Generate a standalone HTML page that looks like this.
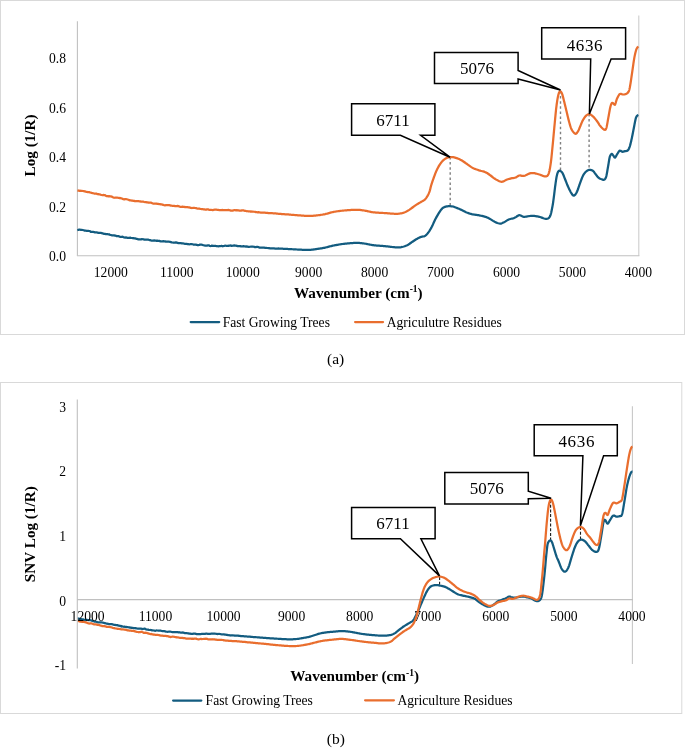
<!DOCTYPE html>
<html><head><meta charset="utf-8"><style>
html,body{margin:0;padding:0;background:#fff;}
svg{display:block;font-family:'Liberation Serif', serif;will-change:transform;}
</style></head><body>
<svg width="685" height="749" viewBox="0 0 685 749">
<rect x="0.5" y="0.5" width="684" height="334" fill="#fff" stroke="#d9d9d9" stroke-width="1"/>
<line x1="77.4" y1="21.2" x2="77.4" y2="255.7" stroke="#c0c0c0" stroke-width="1.1"/>
<line x1="638.8" y1="15.5" x2="638.8" y2="255.7" stroke="#cdcdcd" stroke-width="1.1"/>
<line x1="76.9" y1="255.7" x2="639.4" y2="255.7" stroke="#c0c0c0" stroke-width="1.1"/>
<text x="66" y="261.3" font-size="13.6" text-anchor="end" font-weight="normal" >0.0</text>
<text x="66" y="211.8" font-size="13.6" text-anchor="end" font-weight="normal" >0.2</text>
<text x="66" y="162.3" font-size="13.6" text-anchor="end" font-weight="normal" >0.4</text>
<text x="66" y="112.80000000000001" font-size="13.6" text-anchor="end" font-weight="normal" >0.6</text>
<text x="66" y="63.30000000000001" font-size="13.6" text-anchor="end" font-weight="normal" >0.8</text>
<text x="110.8" y="276.6" font-size="13.6" text-anchor="middle" font-weight="normal" >12000</text>
<text x="176.75" y="276.6" font-size="13.6" text-anchor="middle" font-weight="normal" >11000</text>
<text x="242.7" y="276.6" font-size="13.6" text-anchor="middle" font-weight="normal" >10000</text>
<text x="308.65000000000003" y="276.6" font-size="13.6" text-anchor="middle" font-weight="normal" >9000</text>
<text x="374.6" y="276.6" font-size="13.6" text-anchor="middle" font-weight="normal" >8000</text>
<text x="440.55" y="276.6" font-size="13.6" text-anchor="middle" font-weight="normal" >7000</text>
<text x="506.50000000000006" y="276.6" font-size="13.6" text-anchor="middle" font-weight="normal" >6000</text>
<text x="572.45" y="276.6" font-size="13.6" text-anchor="middle" font-weight="normal" >5000</text>
<text x="638.4" y="276.6" font-size="13.6" text-anchor="middle" font-weight="normal" >4000</text>
<text x="35.5" y="145.4" font-size="15.2" text-anchor="middle" font-weight="bold" transform="rotate(-90 35.5 145.4)">Log (1/R)</text>
<text x="358.3" y="297.5" font-size="15.2" font-weight="bold" text-anchor="middle">Wavenumber (cm<tspan font-size="9.5" dy="-5.5">-1</tspan><tspan dy="5.5">)</tspan></text>
<line x1="450.2" y1="157" x2="450.2" y2="206" stroke="#808080" stroke-width="1.4" stroke-dasharray="2.5,2.6"/>
<line x1="560.5" y1="91" x2="560.5" y2="170" stroke="#808080" stroke-width="1.4" stroke-dasharray="2.5,2.6"/>
<line x1="589.1" y1="114" x2="589.1" y2="169" stroke="#808080" stroke-width="1.4" stroke-dasharray="2.5,2.6"/>
<path d="M77.30,230.08 L77.79,229.99 L78.41,229.82 L79.12,229.62 L79.93,229.71 L80.81,229.79 L81.74,229.86 L82.72,230.01 L83.72,230.27 L84.72,230.63 L85.72,230.64 L86.70,230.76 L87.47,230.80 L88.25,230.84 L89.06,231.02 L89.88,231.19 L90.71,231.77 L91.56,231.85 L92.41,231.93 L93.27,231.93 L94.13,232.06 L95.00,232.32 L95.86,232.27 L96.71,232.41 L97.56,232.56 L98.40,232.83 L99.23,232.96 L100.06,232.85 L100.89,232.97 L101.72,233.11 L102.55,233.47 L103.37,233.59 L104.20,233.86 L105.03,233.92 L105.85,234.07 L106.68,234.18 L107.51,234.21 L108.34,234.30 L109.17,234.31 L110.00,234.83 L110.83,235.02 L111.67,235.31 L112.50,235.31 L113.34,235.46 L114.17,235.37 L115.01,235.57 L115.84,235.72 L116.68,236.15 L117.52,236.05 L118.35,236.20 L119.19,236.42 L120.03,236.88 L120.86,236.93 L121.70,236.76 L122.54,236.72 L123.37,237.08 L124.21,237.37 L125.04,237.52 L125.88,237.43 L126.71,237.59 L127.55,237.78 L128.39,237.95 L129.22,237.81 L130.06,237.69 L130.89,237.93 L131.73,238.00 L132.56,238.17 L133.40,238.07 L134.24,238.36 L135.09,238.45 L135.94,238.67 L136.80,238.97 L137.65,239.15 L138.51,239.41 L139.36,239.33 L140.21,239.32 L141.05,239.31 L141.89,239.10 L142.71,239.24 L143.52,239.31 L144.32,239.59 L145.10,239.73 L145.98,239.74 L146.83,239.68 L147.66,239.68 L148.47,239.71 L149.26,240.01 L150.05,240.08 L150.84,240.41 L151.63,240.55 L152.44,240.63 L153.27,240.60 L154.12,240.45 L155.00,240.68 L155.78,240.58 L156.58,240.91 L157.39,240.70 L158.21,240.78 L159.05,240.75 L159.89,241.17 L160.74,241.44 L161.59,241.48 L162.45,241.30 L163.30,241.16 L164.16,241.30 L165.01,241.34 L165.86,241.64 L166.70,241.56 L167.54,241.67 L168.37,241.57 L169.21,241.72 L170.05,241.93 L170.88,242.13 L171.72,242.37 L172.56,242.51 L173.39,242.72 L174.23,242.58 L175.06,242.59 L175.90,242.34 L176.73,242.58 L177.57,242.82 L178.40,243.09 L179.23,243.14 L180.06,243.03 L180.89,243.14 L181.72,243.28 L182.55,243.26 L183.37,243.47 L184.20,243.66 L185.03,243.81 L185.85,243.81 L186.68,243.87 L187.51,244.10 L188.34,244.19 L189.17,244.27 L190.00,244.20 L190.83,244.10 L191.67,244.03 L192.50,244.25 L193.34,244.56 L194.17,244.70 L195.01,244.58 L195.84,244.56 L196.68,244.80 L197.52,245.09 L198.35,245.03 L199.19,244.89 L200.03,244.63 L200.86,244.63 L201.70,244.72 L202.55,244.95 L203.41,245.26 L204.29,245.45 L205.18,245.61 L206.07,245.72 L206.96,245.57 L207.84,245.41 L208.71,245.37 L209.57,245.81 L210.40,246.04 L211.20,245.90 L211.98,245.66 L212.71,245.82 L213.40,245.87 L214.45,245.99 L215.30,245.78 L216.04,246.07 L216.72,246.08 L217.42,246.18 L218.23,246.27 L219.19,246.12 L220.40,246.01 L221.03,245.99 L221.70,245.93 L222.43,246.26 L223.19,246.03 L223.99,246.00 L224.81,245.73 L225.66,245.74 L226.53,245.87 L227.41,245.84 L228.29,245.93 L229.18,245.63 L230.07,245.58 L230.94,245.42 L231.80,245.90 L232.65,245.73 L233.46,245.72 L234.25,245.38 L235.00,245.55 L235.93,245.68 L236.82,245.89 L237.70,246.17 L238.55,246.06 L239.39,246.08 L240.22,246.09 L241.03,246.31 L241.84,246.28 L242.64,246.32 L243.44,246.17 L244.25,246.46 L245.05,246.40 L245.87,246.54 L246.70,246.43 L247.54,246.56 L248.37,246.80 L249.21,246.81 L250.05,246.75 L250.88,246.71 L251.72,246.70 L252.56,246.65 L253.39,246.74 L254.23,246.86 L255.06,247.17 L255.90,247.08 L256.73,246.93 L257.57,246.93 L258.40,247.10 L259.23,247.53 L260.06,247.61 L260.89,247.69 L261.72,247.67 L262.55,247.68 L263.37,247.73 L264.20,247.66 L265.03,247.79 L265.85,247.80 L266.68,247.92 L267.51,248.00 L268.34,248.16 L269.17,248.18 L270.00,248.31 L270.83,248.27 L271.67,248.42 L272.50,248.40 L273.34,248.47 L274.17,248.47 L275.01,248.54 L275.84,248.60 L276.68,248.64 L277.52,248.51 L278.35,248.47 L279.19,248.54 L280.03,248.65 L280.86,248.68 L281.70,248.65 L282.54,248.68 L283.37,248.77 L284.21,248.85 L285.04,248.92 L285.88,248.92 L286.71,248.98 L287.55,248.99 L288.39,249.04 L289.22,249.10 L290.06,249.15 L290.89,249.20 L291.73,249.21 L292.56,249.25 L293.40,249.31 L294.25,249.37 L295.12,249.43 L296.01,249.46 L296.91,249.50 L297.82,249.55 L298.72,249.60 L299.62,249.64 L300.50,249.69 L301.36,249.74 L302.19,249.78 L302.98,249.82 L303.74,249.85 L304.45,249.88 L305.10,249.90 L306.25,249.93 L307.24,249.93 L308.09,249.93 L308.84,249.91 L309.54,249.88 L310.21,249.84 L310.90,249.80 L311.75,249.74 L312.41,249.68 L313.07,249.59 L313.87,249.47 L315.00,249.30 L315.65,249.20 L316.37,249.10 L317.16,248.98 L317.99,248.86 L318.87,248.73 L319.77,248.59 L320.69,248.45 L321.62,248.29 L322.53,248.13 L323.43,247.97 L324.30,247.80 L325.08,247.63 L325.85,247.46 L326.62,247.27 L327.39,247.07 L328.15,246.87 L328.92,246.66 L329.70,246.46 L330.48,246.25 L331.27,246.05 L332.07,245.86 L332.88,245.67 L333.70,245.50 L334.47,245.35 L335.24,245.20 L336.02,245.05 L336.81,244.91 L337.60,244.77 L338.40,244.63 L339.21,244.50 L340.02,244.37 L340.84,244.24 L341.67,244.13 L342.51,244.01 L343.35,243.90 L344.20,243.80 L345.01,243.71 L345.84,243.62 L346.69,243.53 L347.56,243.44 L348.43,243.36 L349.31,243.28 L350.19,243.21 L351.07,243.14 L351.93,243.08 L352.78,243.02 L353.60,242.98 L354.40,242.94 L355.17,242.92 L355.90,242.90 L356.86,242.89 L357.75,242.91 L358.58,242.94 L359.38,242.98 L360.15,243.04 L360.91,243.11 L361.67,243.19 L362.45,243.29 L363.25,243.39 L364.10,243.50 L364.90,243.62 L365.69,243.75 L366.49,243.90 L367.30,244.07 L368.12,244.24 L368.95,244.41 L369.80,244.59 L370.66,244.76 L371.55,244.92 L372.46,245.07 L373.40,245.20 L374.17,245.29 L374.96,245.38 L375.78,245.46 L376.62,245.53 L377.48,245.60 L378.34,245.67 L379.21,245.74 L380.09,245.80 L380.96,245.86 L381.82,245.93 L382.67,245.99 L383.50,246.06 L384.31,246.13 L385.10,246.20 L386.01,246.29 L386.92,246.39 L387.83,246.49 L388.74,246.60 L389.63,246.70 L390.51,246.81 L391.36,246.91 L392.17,247.00 L392.95,247.09 L393.69,247.17 L394.37,247.24 L395.00,247.30 L396.23,247.40 L397.16,247.46 L397.90,247.48 L398.61,247.46 L399.40,247.40 L400.28,247.30 L401.16,247.16 L402.05,246.97 L402.93,246.75 L403.80,246.50 L404.66,246.22 L405.52,245.90 L406.38,245.55 L407.24,245.15 L408.10,244.70 L408.83,244.27 L409.56,243.78 L410.29,243.26 L411.03,242.73 L411.77,242.20 L412.50,241.70 L413.23,241.21 L413.97,240.73 L414.70,240.24 L415.43,239.77 L416.17,239.32 L416.90,238.90 L417.64,238.49 L418.40,238.10 L419.16,237.72 L419.90,237.38 L420.62,237.07 L421.30,236.80 L422.24,236.57 L423.11,236.49 L423.95,236.36 L424.80,236.00 L425.38,235.60 L425.97,235.11 L426.55,234.56 L427.13,233.93 L427.72,233.24 L428.30,232.50 L428.74,231.91 L429.18,231.27 L429.61,230.60 L430.05,229.90 L430.49,229.17 L430.93,228.40 L431.36,227.61 L431.80,226.80 L432.15,226.12 L432.50,225.39 L432.85,224.64 L433.20,223.86 L433.55,223.08 L433.90,222.29 L434.25,221.50 L434.60,220.74 L434.95,220.00 L435.30,219.30 L435.74,218.46 L436.18,217.65 L436.61,216.85 L437.05,216.08 L437.49,215.33 L437.93,214.60 L438.36,213.89 L438.80,213.20 L439.30,212.42 L439.80,211.65 L440.30,210.89 L440.80,210.18 L441.30,209.51 L441.80,208.92 L442.30,208.40 L443.18,207.71 L444.05,207.22 L444.92,206.88 L445.80,206.60 L446.68,206.39 L447.55,206.27 L448.42,206.22 L449.30,206.20 L450.21,206.22 L451.13,206.28 L452.02,206.38 L452.80,206.50 L453.76,206.72 L455.00,207.20 L455.64,207.45 L456.39,207.75 L457.23,208.08 L458.12,208.45 L459.03,208.83 L459.93,209.22 L460.80,209.60 L461.53,209.95 L462.27,210.32 L463.01,210.70 L463.75,211.09 L464.49,211.47 L465.23,211.84 L465.97,212.19 L466.70,212.50 L467.53,212.82 L468.36,213.12 L469.19,213.40 L470.01,213.65 L470.84,213.88 L471.67,214.10 L472.50,214.30 L473.33,214.47 L474.15,214.60 L474.96,214.71 L475.79,214.81 L476.63,214.92 L477.50,215.04 L478.40,215.20 L479.24,215.36 L480.13,215.54 L481.05,215.73 L481.98,215.92 L482.90,216.13 L483.79,216.35 L484.63,216.57 L485.40,216.80 L486.30,217.11 L487.11,217.43 L487.84,217.77 L488.55,218.12 L489.26,218.50 L490.00,218.90 L490.77,219.35 L491.54,219.85 L492.31,220.37 L493.09,220.89 L493.88,221.37 L494.70,221.80 L495.56,222.20 L496.47,222.60 L497.39,222.97 L498.30,223.28 L499.18,223.50 L500.00,223.60 L500.89,223.55 L501.70,223.33 L502.48,223.01 L503.27,222.61 L504.10,222.20 L504.82,221.81 L505.55,221.36 L506.29,220.87 L507.05,220.37 L507.85,219.91 L508.70,219.50 L509.49,219.21 L510.33,218.97 L511.20,218.75 L512.09,218.54 L512.96,218.32 L513.81,218.08 L514.60,217.80 L515.45,217.37 L516.26,216.84 L517.03,216.29 L517.79,215.79 L518.54,215.40 L519.30,215.20 L520.06,215.25 L520.79,215.51 L521.52,215.89 L522.27,216.29 L523.06,216.62 L523.90,216.80 L524.69,216.81 L525.55,216.73 L526.44,216.59 L527.34,216.42 L528.22,216.25 L529.05,216.10 L529.80,216.00 L530.88,215.90 L531.77,215.84 L532.65,215.84 L533.70,215.90 L534.40,215.97 L535.13,216.05 L535.90,216.15 L536.71,216.28 L537.54,216.43 L538.41,216.60 L539.30,216.80 L540.04,217.01 L540.84,217.28 L541.68,217.59 L542.54,217.92 L543.40,218.24 L544.23,218.52 L545.02,218.74 L545.75,218.88 L546.40,218.90 L547.38,218.76 L548.19,218.45 L548.88,217.93 L549.50,217.16 L550.10,216.10 L550.34,215.55 L550.57,214.91 L550.79,214.21 L551.00,213.45 L551.20,212.65 L551.39,211.81 L551.58,210.94 L551.75,210.07 L551.92,209.20 L552.08,208.34 L552.24,207.50 L552.40,206.70 L552.56,205.86 L552.71,205.03 L552.85,204.21 L552.98,203.39 L553.10,202.57 L553.21,201.75 L553.33,200.92 L553.44,200.07 L553.56,199.21 L553.68,198.32 L553.80,197.40 L553.90,196.65 L554.00,195.88 L554.10,195.09 L554.20,194.29 L554.30,193.47 L554.40,192.64 L554.50,191.81 L554.60,190.97 L554.70,190.15 L554.80,189.32 L554.90,188.52 L555.00,187.72 L555.10,186.95 L555.20,186.20 L555.33,185.26 L555.45,184.32 L555.58,183.38 L555.71,182.46 L555.84,181.55 L555.96,180.66 L556.09,179.80 L556.22,178.98 L556.35,178.20 L556.47,177.47 L556.60,176.80 L556.83,175.69 L557.06,174.73 L557.28,173.89 L557.51,173.17 L557.75,172.54 L558.00,172.00 L558.77,170.91 L559.70,170.70 L560.31,170.92 L561.01,171.37 L561.72,172.03 L562.40,172.90 L562.75,173.50 L563.08,174.18 L563.41,174.94 L563.73,175.75 L564.06,176.63 L564.42,177.54 L564.80,178.50 L565.09,179.21 L565.39,179.97 L565.70,180.77 L566.02,181.60 L566.35,182.45 L566.68,183.30 L567.01,184.14 L567.35,184.96 L567.68,185.75 L568.00,186.50 L568.40,187.40 L568.81,188.30 L569.23,189.18 L569.64,190.03 L570.04,190.83 L570.44,191.59 L570.83,192.28 L571.20,192.90 L571.88,194.00 L572.51,194.92 L573.14,195.53 L573.80,195.70 L574.37,195.47 L574.96,194.97 L575.57,194.22 L576.18,193.26 L576.80,192.10 L577.08,191.49 L577.37,190.81 L577.66,190.05 L577.95,189.25 L578.24,188.41 L578.53,187.54 L578.83,186.66 L579.12,185.78 L579.42,184.92 L579.71,184.09 L580.00,183.30 L580.32,182.45 L580.64,181.58 L580.96,180.72 L581.28,179.85 L581.60,179.00 L581.92,178.17 L582.24,177.38 L582.56,176.63 L582.88,175.93 L583.20,175.30 L583.73,174.37 L584.27,173.58 L584.80,172.89 L585.33,172.30 L585.87,171.78 L586.40,171.30 L587.20,170.69 L587.99,170.24 L588.79,169.94 L589.60,169.80 L590.44,169.83 L591.30,170.03 L592.14,170.36 L592.90,170.80 L593.54,171.37 L594.11,172.06 L594.66,172.85 L595.30,173.70 L595.79,174.33 L596.31,175.04 L596.85,175.78 L597.40,176.50 L597.96,177.16 L598.50,177.70 L599.32,178.30 L600.15,178.72 L600.96,179.04 L601.70,179.30 L602.57,179.64 L603.36,179.85 L604.10,179.70 L604.63,179.41 L605.12,178.98 L605.61,178.22 L606.10,176.90 L606.25,176.34 L606.41,175.70 L606.57,174.98 L606.73,174.19 L606.89,173.36 L607.05,172.49 L607.20,171.60 L607.36,170.69 L607.51,169.79 L607.67,168.89 L607.81,168.02 L607.96,167.19 L608.10,166.40 L608.26,165.49 L608.42,164.56 L608.57,163.63 L608.72,162.69 L608.86,161.78 L609.00,160.88 L609.14,160.03 L609.28,159.22 L609.42,158.47 L609.56,157.79 L609.70,157.20 L610.10,155.97 L610.49,155.19 L610.87,154.69 L611.20,154.30 L611.64,153.89 L612.10,154.10 L612.59,154.62 L613.16,155.38 L613.70,156.10 L614.33,157.22 L615.00,157.70 L615.43,157.25 L615.91,156.44 L616.43,155.45 L617.00,154.50 L617.50,153.70 L618.03,152.79 L618.59,151.90 L619.15,151.16 L619.70,150.70 L620.60,150.77 L621.51,151.39 L622.40,151.80 L623.27,151.70 L624.13,151.39 L625.00,151.10 L625.92,151.01 L626.85,150.93 L627.70,150.50 L628.14,150.01 L628.55,149.41 L628.93,148.68 L629.31,147.78 L629.70,146.70 L629.90,146.08 L630.10,145.40 L630.30,144.67 L630.50,143.90 L630.70,143.09 L630.90,142.25 L631.10,141.38 L631.30,140.50 L631.50,139.60 L631.70,138.70 L631.87,137.94 L632.03,137.15 L632.20,136.34 L632.37,135.51 L632.53,134.68 L632.70,133.82 L632.87,132.97 L633.03,132.11 L633.20,131.25 L633.37,130.39 L633.53,129.54 L633.70,128.70 L633.87,127.84 L634.04,126.95 L634.21,126.03 L634.39,125.10 L634.56,124.17 L634.74,123.26 L634.91,122.36 L635.08,121.51 L635.24,120.70 L635.40,119.96 L635.55,119.28 L635.70,118.70 L636.09,117.43 L636.44,116.67 L636.77,116.21 L637.10,115.80 L637.84,115.22 L638.40,115.00" fill="none" stroke="#135c80" stroke-width="2.25" stroke-linejoin="round"/>
<path d="M77.40,190.59 L77.89,190.63 L78.49,190.48 L79.20,190.79 L80.00,190.72 L80.86,190.81 L81.79,190.79 L82.75,191.00 L83.74,191.14 L84.74,191.35 L85.73,191.62 L86.70,191.80 L87.46,192.06 L88.25,192.18 L89.05,192.06 L89.87,192.31 L90.71,192.49 L91.55,192.94 L92.41,193.01 L93.27,193.25 L94.13,193.51 L94.99,193.55 L95.86,193.72 L96.71,193.70 L97.56,194.14 L98.40,194.14 L99.23,194.47 L100.06,194.47 L100.89,194.82 L101.72,194.99 L102.55,195.22 L103.37,194.95 L104.20,195.12 L105.03,195.21 L105.85,195.74 L106.68,196.10 L107.51,196.18 L108.34,196.39 L109.17,196.13 L110.00,196.44 L110.83,196.41 L111.67,196.62 L112.50,197.01 L113.34,197.43 L114.17,197.75 L115.01,197.64 L115.84,197.52 L116.68,197.54 L117.52,197.71 L118.35,197.76 L119.19,198.06 L120.03,197.94 L120.86,198.35 L121.70,198.33 L122.54,198.89 L123.37,199.15 L124.21,199.38 L125.04,199.10 L125.88,199.05 L126.71,199.26 L127.55,199.52 L128.39,199.81 L129.22,200.08 L130.06,200.35 L130.89,200.41 L131.73,200.52 L132.56,200.63 L133.40,200.91 L134.24,200.90 L135.09,201.25 L135.94,201.22 L136.80,201.24 L137.65,201.17 L138.51,201.22 L139.36,201.34 L140.21,201.40 L141.05,201.66 L141.89,201.61 L142.71,201.71 L143.52,201.69 L144.32,202.02 L145.10,202.22 L145.98,202.18 L146.83,202.38 L147.66,202.36 L148.47,202.62 L149.26,202.62 L150.05,202.70 L150.84,202.72 L151.63,202.89 L152.44,203.28 L153.27,203.57 L154.12,203.72 L155.00,203.65 L155.78,203.57 L156.58,203.64 L157.39,203.93 L158.21,203.94 L159.05,204.07 L159.89,204.06 L160.74,204.35 L161.59,204.46 L162.45,204.62 L163.30,204.96 L164.16,205.13 L165.01,205.27 L165.86,205.16 L166.70,205.21 L167.54,205.13 L168.37,205.23 L169.21,205.18 L170.05,205.35 L170.88,205.58 L171.72,205.72 L172.56,205.77 L173.39,205.78 L174.23,205.90 L175.06,206.08 L175.90,206.13 L176.73,206.09 L177.57,205.96 L178.40,206.11 L179.23,206.42 L180.06,206.76 L180.89,206.80 L181.72,206.84 L182.55,206.62 L183.37,206.85 L184.20,206.81 L185.03,207.21 L185.85,207.00 L186.68,207.12 L187.51,207.11 L188.34,207.29 L189.17,207.38 L190.00,207.56 L190.84,207.79 L191.69,208.02 L192.54,207.98 L193.40,207.91 L194.27,207.91 L195.13,208.00 L195.99,208.20 L196.84,208.45 L197.69,208.60 L198.52,208.61 L199.34,208.54 L200.15,208.81 L200.93,209.01 L201.70,209.19 L202.65,209.17 L203.57,209.31 L204.46,209.39 L205.34,209.58 L206.20,209.68 L207.04,209.41 L207.87,209.32 L208.69,209.63 L209.50,209.88 L210.30,209.96 L211.10,209.79 L211.93,209.98 L212.70,210.16 L213.41,209.91 L214.11,209.78 L214.81,209.61 L215.54,209.68 L216.33,209.72 L217.20,209.82 L218.18,209.95 L219.30,210.10 L219.95,210.00 L220.66,210.01 L221.40,210.01 L222.18,209.98 L223.00,210.02 L223.84,210.09 L224.70,210.20 L225.59,210.23 L226.48,210.07 L227.38,210.06 L228.29,209.93 L229.19,210.23 L230.08,210.33 L230.96,210.65 L231.83,210.70 L232.67,210.62 L233.48,210.26 L234.26,210.16 L235.00,210.20 L235.96,210.34 L236.88,210.20 L237.77,210.34 L238.63,210.42 L239.47,210.64 L240.29,210.65 L241.10,210.57 L241.90,210.32 L242.69,210.32 L243.47,210.41 L244.27,210.65 L245.06,210.85 L245.87,210.97 L246.70,211.25 L247.54,211.23 L248.37,211.39 L249.21,211.37 L250.05,211.51 L250.88,211.41 L251.72,211.55 L252.56,211.58 L253.39,211.70 L254.23,211.75 L255.06,211.86 L255.90,212.15 L256.73,212.24 L257.57,212.32 L258.40,212.16 L259.23,212.31 L260.06,212.46 L260.89,212.71 L261.72,212.68 L262.55,212.72 L263.37,212.66 L264.20,212.74 L265.03,212.72 L265.85,212.77 L266.68,212.81 L267.51,212.89 L268.34,213.12 L269.17,213.22 L270.00,213.16 L270.83,213.02 L271.67,213.03 L272.50,213.17 L273.34,213.29 L274.17,213.29 L275.01,213.36 L275.84,213.42 L276.68,213.52 L277.52,213.64 L278.35,213.76 L279.19,213.82 L280.03,213.81 L280.86,213.86 L281.70,214.02 L282.54,214.10 L283.37,214.22 L284.21,214.21 L285.04,214.28 L285.88,214.31 L286.71,214.38 L287.55,214.45 L288.39,214.47 L289.22,214.57 L290.06,214.65 L290.89,214.73 L291.73,214.78 L292.56,214.82 L293.40,214.87 L294.25,214.97 L295.13,215.05 L296.03,215.14 L296.95,215.19 L297.87,215.26 L298.78,215.33 L299.69,215.40 L300.58,215.47 L301.44,215.54 L302.27,215.60 L303.06,215.66 L303.80,215.71 L304.48,215.76 L305.10,215.80 L306.48,215.88 L307.46,215.92 L308.22,215.93 L308.94,215.92 L309.80,215.90 L310.59,215.88 L311.34,215.87 L312.11,215.84 L312.94,215.79 L313.89,215.71 L315.00,215.60 L315.69,215.52 L316.44,215.44 L317.24,215.35 L318.08,215.25 L318.94,215.14 L319.83,215.02 L320.74,214.90 L321.65,214.76 L322.55,214.62 L323.44,214.46 L324.30,214.30 L325.08,214.14 L325.85,213.95 L326.62,213.75 L327.39,213.54 L328.15,213.33 L328.92,213.11 L329.70,212.88 L330.48,212.67 L331.27,212.46 L332.07,212.25 L332.88,212.07 L333.70,211.90 L334.47,211.76 L335.24,211.62 L336.02,211.49 L336.81,211.37 L337.60,211.26 L338.40,211.15 L339.21,211.04 L340.02,210.94 L340.84,210.85 L341.67,210.75 L342.51,210.67 L343.35,210.58 L344.20,210.50 L345.01,210.43 L345.84,210.35 L346.69,210.28 L347.56,210.21 L348.43,210.14 L349.31,210.08 L350.19,210.02 L351.07,209.97 L351.93,209.92 L352.78,209.88 L353.60,209.84 L354.40,209.82 L355.17,209.81 L355.90,209.80 L356.86,209.81 L357.75,209.83 L358.58,209.87 L359.38,209.93 L360.15,209.99 L360.91,210.07 L361.67,210.17 L362.45,210.27 L363.25,210.38 L364.10,210.50 L364.90,210.63 L365.69,210.77 L366.49,210.94 L367.30,211.12 L368.12,211.30 L368.95,211.49 L369.80,211.67 L370.66,211.85 L371.55,212.02 L372.46,212.17 L373.40,212.30 L374.17,212.39 L374.96,212.47 L375.78,212.54 L376.62,212.60 L377.48,212.66 L378.34,212.72 L379.21,212.77 L380.09,212.82 L380.96,212.86 L381.82,212.91 L382.67,212.95 L383.50,213.00 L384.31,213.05 L385.10,213.10 L386.01,213.16 L386.92,213.23 L387.83,213.30 L388.74,213.37 L389.63,213.44 L390.51,213.51 L391.36,213.58 L392.17,213.64 L392.95,213.69 L393.69,213.74 L394.37,213.77 L395.00,213.80 L396.23,213.83 L397.16,213.82 L397.90,213.78 L398.61,213.71 L399.40,213.60 L400.28,213.47 L401.16,213.31 L402.05,213.11 L402.93,212.88 L403.80,212.60 L404.66,212.28 L405.52,211.92 L406.38,211.53 L407.24,211.09 L408.10,210.60 L408.83,210.15 L409.56,209.65 L410.29,209.12 L411.03,208.57 L411.77,208.03 L412.50,207.50 L413.23,206.98 L413.97,206.45 L414.70,205.92 L415.43,205.40 L416.17,204.89 L416.90,204.40 L417.64,203.93 L418.40,203.48 L419.16,203.04 L419.90,202.62 L420.62,202.20 L421.30,201.80 L422.07,201.36 L422.81,200.95 L423.51,200.55 L424.17,200.12 L424.80,199.60 L425.38,199.00 L425.92,198.36 L426.43,197.66 L426.92,196.90 L427.40,196.10 L427.79,195.41 L428.17,194.70 L428.53,193.96 L428.89,193.16 L429.24,192.28 L429.60,191.30 L429.82,190.61 L430.02,189.90 L430.21,189.17 L430.40,188.40 L430.59,187.59 L430.81,186.72 L431.06,185.79 L431.35,184.79 L431.70,183.70 L431.91,183.08 L432.13,182.40 L432.37,181.69 L432.63,180.95 L432.89,180.18 L433.17,179.38 L433.45,178.57 L433.74,177.75 L434.04,176.92 L434.34,176.10 L434.64,175.29 L434.94,174.49 L435.24,173.71 L435.54,172.95 L435.83,172.23 L436.12,171.54 L436.40,170.90 L436.83,169.97 L437.26,169.08 L437.68,168.22 L438.11,167.41 L438.54,166.64 L438.97,165.90 L439.40,165.19 L439.83,164.52 L440.25,163.89 L440.68,163.28 L441.10,162.70 L441.77,161.87 L442.43,161.13 L443.09,160.47 L443.75,159.89 L444.41,159.38 L445.06,158.92 L445.70,158.50 L446.57,158.01 L447.41,157.65 L448.24,157.39 L449.10,157.21 L450.00,157.10 L450.78,157.05 L451.59,157.06 L452.41,157.12 L453.25,157.23 L454.11,157.39 L455.00,157.60 L455.79,157.82 L456.60,158.08 L457.42,158.38 L458.27,158.71 L459.11,159.07 L459.96,159.47 L460.80,159.90 L461.53,160.31 L462.27,160.76 L463.01,161.24 L463.75,161.74 L464.49,162.26 L465.23,162.78 L465.97,163.30 L466.70,163.80 L467.43,164.31 L468.15,164.83 L468.88,165.37 L469.60,165.90 L470.32,166.42 L471.05,166.92 L471.77,167.38 L472.50,167.80 L473.33,168.22 L474.15,168.59 L474.96,168.92 L475.79,169.22 L476.63,169.51 L477.50,169.80 L478.40,170.10 L479.14,170.34 L479.93,170.56 L480.74,170.79 L481.57,171.00 L482.39,171.22 L483.20,171.45 L483.98,171.68 L484.72,171.93 L485.40,172.20 L486.29,172.62 L487.06,173.06 L487.77,173.51 L488.46,174.00 L489.19,174.53 L490.00,175.10 L490.60,175.53 L491.23,176.00 L491.87,176.50 L492.54,177.02 L493.21,177.54 L493.89,178.06 L494.57,178.55 L495.24,179.00 L495.90,179.40 L496.74,179.88 L497.60,180.35 L498.45,180.79 L499.30,181.18 L500.13,181.49 L500.93,181.70 L501.70,181.80 L502.55,181.71 L503.35,181.44 L504.12,181.04 L504.87,180.59 L505.63,180.15 L506.40,179.80 L507.18,179.53 L507.97,179.27 L508.76,179.03 L509.54,178.81 L510.32,178.60 L511.10,178.40 L512.04,178.21 L513.00,178.06 L513.94,177.92 L514.85,177.74 L515.70,177.50 L516.47,177.13 L517.16,176.66 L517.84,176.18 L518.53,175.76 L519.30,175.50 L520.14,175.47 L521.01,175.63 L521.92,175.83 L522.88,175.97 L523.90,175.90 L524.59,175.71 L525.33,175.43 L526.11,175.08 L526.89,174.69 L527.68,174.30 L528.44,173.94 L529.15,173.63 L529.80,173.40 L530.88,173.13 L531.77,173.01 L532.65,173.00 L533.70,173.10 L534.41,173.21 L535.16,173.36 L535.95,173.55 L536.78,173.78 L537.61,174.01 L538.46,174.26 L539.30,174.50 L540.17,174.78 L541.09,175.13 L542.04,175.50 L542.97,175.86 L543.86,176.16 L544.68,176.35 L545.40,176.40 L546.41,176.29 L547.19,175.97 L547.86,175.26 L548.50,174.00 L548.70,173.48 L548.89,172.91 L549.08,172.30 L549.25,171.63 L549.43,170.91 L549.59,170.15 L549.76,169.35 L549.92,168.50 L550.07,167.60 L550.23,166.66 L550.39,165.68 L550.54,164.66 L550.70,163.60 L550.79,162.95 L550.88,162.27 L550.97,161.58 L551.06,160.86 L551.15,160.12 L551.24,159.37 L551.33,158.60 L551.41,157.81 L551.50,157.01 L551.58,156.19 L551.67,155.37 L551.75,154.53 L551.84,153.69 L551.92,152.83 L552.01,151.98 L552.09,151.11 L552.17,150.24 L552.26,149.38 L552.34,148.50 L552.43,147.63 L552.51,146.77 L552.60,145.90 L552.68,145.13 L552.75,144.36 L552.83,143.58 L552.90,142.78 L552.98,141.99 L553.06,141.18 L553.13,140.37 L553.21,139.55 L553.28,138.73 L553.36,137.90 L553.44,137.08 L553.51,136.25 L553.59,135.42 L553.66,134.58 L553.74,133.75 L553.82,132.92 L553.89,132.09 L553.97,131.26 L554.04,130.44 L554.12,129.62 L554.20,128.80 L554.27,127.99 L554.35,127.19 L554.42,126.39 L554.50,125.60 L554.58,124.74 L554.67,123.87 L554.75,123.00 L554.83,122.12 L554.91,121.24 L555.00,120.36 L555.08,119.48 L555.16,118.60 L555.24,117.72 L555.33,116.85 L555.41,115.98 L555.49,115.12 L555.57,114.27 L555.66,113.43 L555.74,112.60 L555.82,111.79 L555.90,110.99 L555.99,110.21 L556.07,109.44 L556.15,108.70 L556.23,107.98 L556.32,107.28 L556.40,106.60 L556.54,105.53 L556.67,104.50 L556.81,103.50 L556.94,102.54 L557.08,101.62 L557.21,100.74 L557.35,99.90 L557.49,99.10 L557.62,98.33 L557.76,97.61 L557.89,96.92 L558.03,96.27 L558.16,95.67 L558.30,95.10 L558.68,93.74 L559.06,92.72 L559.44,91.99 L559.82,91.53 L560.20,91.30 L560.68,91.40 L561.15,91.92 L561.62,92.79 L562.10,93.90 L562.31,94.46 L562.51,95.09 L562.71,95.77 L562.91,96.51 L563.11,97.29 L563.31,98.13 L563.53,99.01 L563.76,99.94 L564.00,100.90 L564.18,101.60 L564.36,102.35 L564.55,103.13 L564.75,103.94 L564.95,104.77 L565.16,105.62 L565.37,106.48 L565.58,107.35 L565.78,108.22 L565.99,109.09 L566.20,109.94 L566.40,110.78 L566.60,111.60 L566.80,112.41 L566.99,113.22 L567.18,114.04 L567.38,114.86 L567.57,115.68 L567.76,116.49 L567.95,117.29 L568.14,118.09 L568.33,118.87 L568.53,119.63 L568.72,120.38 L568.91,121.10 L569.10,121.80 L569.34,122.68 L569.58,123.54 L569.81,124.37 L570.04,125.18 L570.27,125.96 L570.51,126.72 L570.75,127.44 L571.02,128.13 L571.30,128.78 L571.60,129.40 L572.09,130.26 L572.63,131.09 L573.20,131.87 L573.79,132.57 L574.36,133.14 L574.91,133.56 L575.40,133.80 L576.15,133.70 L576.81,133.10 L577.42,132.22 L578.00,131.30 L578.36,130.70 L578.69,130.04 L578.99,129.34 L579.30,128.58 L579.63,127.77 L580.00,126.90 L580.30,126.19 L580.61,125.42 L580.94,124.61 L581.27,123.77 L581.62,122.93 L581.97,122.11 L582.33,121.32 L582.70,120.60 L583.13,119.82 L583.57,119.05 L584.02,118.32 L584.48,117.62 L584.95,116.98 L585.42,116.40 L585.90,115.90 L586.74,115.16 L587.60,114.59 L588.48,114.25 L589.40,114.20 L590.16,114.40 L590.95,114.80 L591.75,115.36 L592.57,116.04 L593.40,116.80 L593.93,117.34 L594.49,117.97 L595.07,118.65 L595.64,119.36 L596.20,120.09 L596.74,120.80 L597.24,121.48 L597.70,122.10 L598.31,122.99 L598.80,123.81 L599.24,124.59 L599.72,125.35 L600.30,126.10 L600.91,126.78 L601.60,127.52 L602.34,128.25 L603.06,128.90 L603.73,129.41 L604.30,129.70 L605.11,129.89 L605.70,129.50 L606.30,128.10 L606.46,127.57 L606.62,126.95 L606.78,126.25 L606.94,125.48 L607.10,124.64 L607.27,123.76 L607.43,122.85 L607.60,121.92 L607.76,120.98 L607.92,120.05 L608.08,119.13 L608.24,118.24 L608.40,117.40 L608.56,116.56 L608.72,115.70 L608.87,114.81 L609.03,113.91 L609.19,113.02 L609.35,112.12 L609.50,111.24 L609.66,110.39 L609.81,109.57 L609.96,108.79 L610.11,108.07 L610.26,107.40 L610.40,106.80 L610.76,105.50 L611.11,104.48 L611.44,103.72 L611.77,103.17 L612.10,102.80 L612.93,102.99 L613.70,103.80 L614.33,104.74 L615.00,104.80 L615.21,104.37 L615.43,103.74 L615.67,102.97 L615.91,102.10 L616.17,101.19 L616.43,100.29 L616.71,99.44 L617.00,98.70 L617.42,97.79 L617.87,96.89 L618.35,96.02 L618.83,95.24 L619.28,94.58 L619.70,94.10 L620.74,93.79 L621.70,94.10 L622.62,94.37 L623.70,94.50 L624.46,94.37 L625.35,94.14 L626.24,93.82 L627.00,93.40 L627.61,92.93 L628.12,92.39 L628.57,91.69 L629.00,90.70 L629.20,90.11 L629.38,89.48 L629.54,88.81 L629.70,88.07 L629.86,87.24 L630.02,86.32 L630.20,85.28 L630.40,84.10 L630.51,83.45 L630.62,82.75 L630.74,82.01 L630.86,81.23 L630.98,80.41 L631.11,79.57 L631.23,78.70 L631.36,77.82 L631.49,76.92 L631.62,76.02 L631.75,75.11 L631.89,74.20 L632.02,73.30 L632.15,72.42 L632.27,71.55 L632.40,70.70 L632.52,69.86 L632.65,69.00 L632.77,68.13 L632.90,67.25 L633.02,66.36 L633.15,65.48 L633.28,64.59 L633.40,63.72 L633.52,62.85 L633.65,62.00 L633.77,61.17 L633.90,60.36 L634.03,59.57 L634.15,58.81 L634.27,58.09 L634.40,57.40 L634.60,56.36 L634.80,55.36 L635.00,54.42 L635.20,53.54 L635.40,52.70 L635.60,51.92 L635.80,51.18 L636.00,50.50 L636.20,49.88 L636.40,49.30 L636.95,48.14 L637.52,47.34 L638.04,46.80 L638.40,46.40" fill="none" stroke="#e96e2e" stroke-width="2.25" stroke-linejoin="round"/>
<path d="M351.6,103.8 L434.9,103.8 L434.9,135.3 L420.6,135.3 L450.0,157.2 L400.4,135.3 L351.6,135.3 Z" fill="#fff" stroke="#000" stroke-width="1.5" stroke-linejoin="miter"/><text x="393.0" y="125.69999999999999" font-size="17" text-anchor="middle" font-weight="normal" >6711</text>
<path d="M434.5,52.5 L518.1,52.5 L518.1,70.5 L560.5,90.0 L518.1,79.0 L518.1,83.4 L434.5,83.4 Z" fill="#fff" stroke="#000" stroke-width="1.5" stroke-linejoin="miter"/><text x="477.0" y="74.19999999999999" font-size="17" text-anchor="middle" font-weight="normal" >5076</text>
<path d="M541.7,27.7 L625.6,27.7 L625.6,59.0 L611.1,59.0 L589.4,114.0 L590.7,59.0 L541.7,59.0 Z" fill="#fff" stroke="#000" stroke-width="1.5" stroke-linejoin="miter"/><text x="584.9" y="50.6" font-size="17" text-anchor="middle" font-weight="normal" letter-spacing="0.6">4636</text>
<line x1="190.7" y1="322" x2="219.2" y2="322" stroke="#135c80" stroke-width="2.25" stroke-linecap="round"/>
<text x="222.7" y="326.6" font-size="13.6" text-anchor="start" font-weight="normal" >Fast Growing Trees</text>
<line x1="355.1" y1="322" x2="383" y2="322" stroke="#e96e2e" stroke-width="2.25" stroke-linecap="round"/>
<text x="386.7" y="326.6" font-size="13.6" text-anchor="start" font-weight="normal" >Agriculutre Residues</text>
<text x="335.6" y="364.2" font-size="15.5" text-anchor="middle" font-weight="normal" >(a)</text>
<rect x="0.5" y="382.5" width="681.3" height="331" fill="#fff" stroke="#d9d9d9" stroke-width="1"/>
<line x1="632.4" y1="406.2" x2="632.4" y2="663.9" stroke="#c8c8c8" stroke-width="1.1"/>
<line x1="77" y1="599.6" x2="633" y2="599.6" stroke="#c0c0c0" stroke-width="1.1"/>
<text x="66" y="670.4" font-size="13.6" text-anchor="end" font-weight="normal" >-1</text>
<text x="66" y="605.6999999999999" font-size="13.6" text-anchor="end" font-weight="normal" >0</text>
<text x="66" y="541.0" font-size="13.6" text-anchor="end" font-weight="normal" >1</text>
<text x="66" y="476.29999999999995" font-size="13.6" text-anchor="end" font-weight="normal" >2</text>
<text x="66" y="411.59999999999997" font-size="13.6" text-anchor="end" font-weight="normal" >3</text>
<text x="35.5" y="534.2" font-size="15.2" text-anchor="middle" font-weight="bold" transform="rotate(-90 35.5 534.2)">SNV Log (1/R)</text>
<text x="354.6" y="681" font-size="15.2" font-weight="bold" text-anchor="middle">Wavenumber (cm<tspan font-size="9.5" dy="-5.5">-1</tspan><tspan dy="5.5">)</tspan></text>
<text x="155.47" y="620.8" font-size="13.6" text-anchor="middle" font-weight="normal" >11000</text>
<text x="223.54" y="620.8" font-size="13.6" text-anchor="middle" font-weight="normal" >10000</text>
<text x="291.61" y="620.8" font-size="13.6" text-anchor="middle" font-weight="normal" >9000</text>
<text x="359.67999999999995" y="620.8" font-size="13.6" text-anchor="middle" font-weight="normal" >8000</text>
<text x="427.75" y="620.8" font-size="13.6" text-anchor="middle" font-weight="normal" >7000</text>
<text x="495.81999999999994" y="620.8" font-size="13.6" text-anchor="middle" font-weight="normal" >6000</text>
<text x="563.89" y="620.8" font-size="13.6" text-anchor="middle" font-weight="normal" >5000</text>
<text x="631.9599999999999" y="620.8" font-size="13.6" text-anchor="middle" font-weight="normal" >4000</text>
<line x1="439.6" y1="577" x2="439.6" y2="585" stroke="#1a1a1a" stroke-width="1.1" stroke-dasharray="3,1.7"/>
<line x1="550.6" y1="500" x2="550.6" y2="541" stroke="#1a1a1a" stroke-width="1.1" stroke-dasharray="3,1.7"/>
<line x1="580.5" y1="527" x2="580.5" y2="540" stroke="#1a1a1a" stroke-width="1.1" stroke-dasharray="3,1.7"/>
<path d="M77.20,618.64 L77.65,618.52 L78.21,618.70 L78.86,618.62 L79.58,618.81 L80.37,619.03 L81.22,619.20 L82.10,619.36 L83.02,619.37 L83.95,619.63 L84.88,619.79 L85.80,619.93 L86.70,619.85 L87.47,619.96 L88.27,620.01 L89.10,620.14 L89.94,620.19 L90.80,620.25 L91.67,620.57 L92.54,620.92 L93.42,621.27 L94.29,621.51 L95.15,621.56 L95.99,621.77 L96.82,621.96 L97.62,622.36 L98.40,622.42 L99.26,622.49 L100.07,622.29 L100.85,622.44 L101.60,622.32 L102.34,622.48 L103.08,622.74 L103.82,622.83 L104.57,623.17 L105.36,623.18 L106.19,623.51 L107.06,623.60 L108.00,623.78 L108.70,624.06 L109.44,624.12 L110.20,624.13 L110.98,624.10 L111.79,624.17 L112.61,624.41 L113.45,624.56 L114.29,624.98 L115.14,624.94 L116.00,625.08 L116.85,625.02 L117.69,625.17 L118.53,625.68 L119.35,625.67 L120.15,626.04 L120.94,625.89 L121.70,626.50 L122.60,626.44 L123.48,626.76 L124.34,626.61 L125.19,626.94 L126.03,626.85 L126.85,627.11 L127.67,627.09 L128.49,627.26 L129.30,627.32 L130.12,627.76 L130.93,627.58 L131.75,627.81 L132.57,627.81 L133.40,628.13 L134.25,628.09 L135.13,628.04 L136.03,628.39 L136.94,628.49 L137.86,628.63 L138.77,628.52 L139.67,628.58 L140.56,628.69 L141.42,628.72 L142.25,629.08 L143.04,628.97 L143.79,628.74 L144.47,628.57 L145.10,628.85 L146.23,629.45 L146.99,629.54 L147.55,629.61 L148.11,629.68 L148.87,629.91 L150.00,630.00 L150.63,629.99 L151.31,630.17 L152.06,630.37 L152.85,630.38 L153.68,630.51 L154.54,630.63 L155.42,630.77 L156.33,630.46 L157.24,630.50 L158.16,630.56 L159.07,630.67 L159.97,630.57 L160.85,630.69 L161.70,631.02 L162.54,631.19 L163.37,631.15 L164.21,631.17 L165.05,631.29 L165.88,631.62 L166.72,631.74 L167.56,631.78 L168.39,631.72 L169.23,631.63 L170.06,631.58 L170.90,631.74 L171.73,631.97 L172.57,632.19 L173.40,632.15 L174.23,632.04 L175.06,632.00 L175.89,632.01 L176.72,632.07 L177.55,632.15 L178.37,632.27 L179.20,632.22 L180.03,632.44 L180.85,632.58 L181.68,632.71 L182.51,632.48 L183.34,632.55 L184.17,632.89 L185.00,633.14 L185.84,633.16 L186.69,633.04 L187.54,633.28 L188.41,633.31 L189.27,633.57 L190.13,633.53 L190.99,633.82 L191.85,633.78 L192.69,633.85 L193.53,633.63 L194.35,633.60 L195.15,633.65 L195.94,633.94 L196.70,634.08 L197.64,634.05 L198.54,634.02 L199.41,634.10 L200.25,634.14 L201.08,634.02 L201.90,633.83 L202.71,633.90 L203.52,633.97 L204.34,633.88 L205.16,633.81 L206.00,633.69 L206.85,633.70 L207.70,633.78 L208.56,633.89 L209.41,633.88 L210.27,633.76 L211.12,633.72 L211.98,633.73 L212.83,633.71 L213.69,633.74 L214.55,633.66 L215.40,633.73 L216.27,633.78 L217.17,634.03 L218.08,633.96 L218.99,634.00 L219.91,633.97 L220.81,634.21 L221.69,634.31 L222.54,634.48 L223.35,634.46 L224.10,634.45 L224.80,634.57 L225.83,634.67 L226.60,634.83 L227.26,634.90 L227.94,635.03 L228.81,635.24 L230.00,635.33 L230.64,635.52 L231.33,635.32 L232.08,635.26 L232.87,635.26 L233.70,635.47 L234.56,635.63 L235.44,635.64 L236.34,635.59 L237.25,635.65 L238.17,635.68 L239.08,635.83 L239.97,635.95 L240.85,636.06 L241.70,636.15 L242.54,636.16 L243.37,636.20 L244.21,636.26 L245.05,636.34 L245.88,636.45 L246.72,636.49 L247.56,636.61 L248.39,636.62 L249.23,636.72 L250.06,636.73 L250.90,636.84 L251.73,636.89 L252.57,636.97 L253.40,637.02 L254.23,637.07 L255.06,637.12 L255.89,637.17 L256.72,637.25 L257.55,637.32 L258.37,637.39 L259.20,637.45 L260.03,637.52 L260.85,637.59 L261.68,637.65 L262.51,637.71 L263.34,637.78 L264.17,637.84 L265.00,637.90 L265.83,637.96 L266.67,638.02 L267.50,638.08 L268.34,638.14 L269.17,638.20 L270.01,638.26 L270.84,638.32 L271.68,638.38 L272.52,638.43 L273.35,638.49 L274.19,638.54 L275.03,638.60 L275.86,638.65 L276.70,638.70 L277.54,638.75 L278.40,638.80 L279.27,638.86 L280.14,638.91 L281.02,638.97 L281.90,639.02 L282.77,639.07 L283.63,639.12 L284.48,639.16 L285.31,639.20 L286.12,639.23 L286.91,639.26 L287.67,639.29 L288.40,639.30 L289.37,639.31 L290.28,639.31 L291.16,639.30 L291.99,639.28 L292.79,639.26 L293.57,639.22 L294.34,639.18 L295.09,639.13 L295.84,639.07 L296.60,639.00 L297.54,638.90 L298.45,638.79 L299.34,638.65 L300.21,638.51 L301.07,638.36 L301.92,638.21 L302.76,638.05 L303.60,637.90 L304.39,637.76 L305.12,637.64 L305.81,637.52 L306.51,637.40 L307.24,637.26 L308.04,637.08 L308.95,636.87 L310.00,636.60 L310.63,636.43 L311.29,636.23 L312.00,636.01 L312.74,635.77 L313.51,635.52 L314.30,635.26 L315.11,634.99 L315.93,634.72 L316.77,634.45 L317.60,634.19 L318.44,633.94 L319.28,633.70 L320.10,633.48 L320.91,633.28 L321.70,633.10 L322.54,632.93 L323.39,632.78 L324.25,632.65 L325.11,632.52 L325.98,632.41 L326.84,632.31 L327.70,632.22 L328.55,632.13 L329.40,632.05 L330.23,631.98 L331.05,631.91 L331.85,631.84 L332.64,631.77 L333.40,631.70 L334.34,631.61 L335.25,631.52 L336.14,631.44 L337.00,631.36 L337.85,631.29 L338.68,631.23 L339.50,631.18 L340.31,631.14 L341.11,631.11 L341.90,631.10 L342.70,631.10 L343.55,631.12 L344.35,631.15 L345.13,631.20 L345.89,631.26 L346.65,631.33 L347.42,631.42 L348.22,631.52 L349.05,631.63 L349.94,631.76 L350.90,631.90 L351.63,632.01 L352.39,632.14 L353.18,632.28 L353.99,632.43 L354.82,632.59 L355.67,632.76 L356.53,632.93 L357.40,633.09 L358.28,633.26 L359.16,633.43 L360.03,633.59 L360.90,633.74 L361.76,633.87 L362.60,634.00 L363.44,634.12 L364.30,634.22 L365.17,634.33 L366.05,634.43 L366.93,634.52 L367.80,634.61 L368.68,634.70 L369.54,634.78 L370.39,634.86 L371.22,634.93 L372.03,635.01 L372.82,635.07 L373.58,635.14 L374.30,635.20 L375.26,635.28 L376.16,635.36 L377.01,635.44 L377.82,635.50 L378.61,635.56 L379.37,635.61 L380.12,635.65 L380.87,635.68 L381.63,635.70 L382.40,635.70 L383.28,635.69 L384.17,635.67 L385.07,635.63 L385.95,635.59 L386.83,635.52 L387.68,635.44 L388.50,635.35 L389.27,635.23 L390.00,635.10 L390.98,634.87 L391.86,634.61 L392.66,634.31 L393.43,633.97 L394.20,633.57 L395.00,633.10 L395.62,632.69 L396.25,632.23 L396.88,631.72 L397.50,631.19 L398.12,630.65 L398.75,630.11 L399.38,629.59 L400.00,629.10 L400.71,628.57 L401.43,628.05 L402.14,627.54 L402.86,627.04 L403.57,626.55 L404.29,626.07 L405.00,625.60 L405.73,625.14 L406.48,624.68 L407.24,624.23 L407.99,623.79 L408.71,623.37 L409.39,622.97 L410.00,622.60 L410.93,622.06 L411.74,621.63 L412.45,621.18 L413.10,620.60 L413.55,620.04 L413.93,619.43 L414.28,618.75 L414.65,617.98 L415.10,617.10 L415.43,616.48 L415.78,615.80 L416.15,615.08 L416.54,614.32 L416.93,613.53 L417.33,612.73 L417.72,611.91 L418.10,611.10 L418.43,610.37 L418.77,609.61 L419.10,608.84 L419.43,608.06 L419.77,607.27 L420.10,606.47 L420.43,605.67 L420.77,604.88 L421.10,604.10 L421.43,603.32 L421.77,602.53 L422.10,601.73 L422.43,600.94 L422.77,600.15 L423.10,599.37 L423.43,598.60 L423.77,597.84 L424.10,597.10 L424.48,596.28 L424.85,595.46 L425.23,594.65 L425.60,593.86 L425.98,593.09 L426.35,592.36 L426.73,591.66 L427.10,591.00 L427.60,590.18 L428.10,589.42 L428.60,588.71 L429.10,588.07 L429.60,587.50 L430.10,587.00 L430.83,586.43 L431.54,586.03 L432.28,585.75 L433.10,585.50 L433.85,585.32 L434.68,585.18 L435.53,585.07 L436.35,585.01 L437.10,585.00 L438.09,585.10 L438.96,585.33 L440.00,585.60 L440.78,585.76 L441.65,585.91 L442.57,586.09 L443.50,586.32 L444.40,586.60 L445.13,586.89 L445.87,587.23 L446.61,587.59 L447.34,587.99 L448.07,588.39 L448.80,588.80 L449.52,589.22 L450.24,589.67 L450.95,590.12 L451.66,590.59 L452.38,591.05 L453.10,591.50 L453.83,591.95 L454.56,592.42 L455.29,592.89 L456.03,593.33 L456.77,593.74 L457.50,594.10 L458.38,594.45 L459.26,594.73 L460.14,594.97 L461.02,595.19 L461.90,595.40 L462.78,595.60 L463.66,595.78 L464.55,595.95 L465.43,596.12 L466.30,596.30 L467.16,596.48 L468.02,596.66 L468.88,596.85 L469.74,597.06 L470.60,597.30 L471.47,597.55 L472.35,597.81 L473.24,598.09 L474.12,598.45 L475.00,598.90 L475.63,599.31 L476.26,599.79 L476.89,600.31 L477.51,600.86 L478.14,601.41 L478.77,601.93 L479.40,602.40 L480.14,602.90 L480.89,603.37 L481.63,603.82 L482.37,604.24 L483.10,604.63 L483.80,605.00 L484.62,605.41 L485.43,605.80 L486.22,606.14 L486.98,606.42 L487.70,606.60 L488.78,606.71 L489.77,606.60 L490.80,606.30 L491.47,606.01 L492.17,605.63 L492.88,605.18 L493.59,604.70 L494.30,604.20 L495.00,603.64 L495.71,603.01 L496.42,602.37 L497.12,601.78 L497.80,601.30 L498.65,600.89 L499.49,600.62 L500.29,600.42 L501.00,600.20 L502.00,599.76 L503.00,599.30 L503.72,599.03 L504.54,598.74 L505.39,598.44 L506.20,598.10 L506.95,597.67 L507.68,597.17 L508.39,596.74 L509.10,596.50 L510.03,596.60 L510.94,596.97 L511.90,597.30 L512.65,597.46 L513.42,597.60 L514.23,597.69 L515.10,597.70 L515.85,597.61 L516.64,597.45 L517.46,597.25 L518.29,597.05 L519.10,596.90 L519.90,596.78 L520.70,596.65 L521.50,596.55 L522.30,596.50 L523.10,596.50 L523.90,596.58 L524.70,596.72 L525.50,596.91 L526.30,597.11 L527.10,597.30 L527.92,597.48 L528.77,597.66 L529.60,597.85 L530.39,598.06 L531.10,598.30 L532.05,598.80 L532.85,599.37 L533.70,599.90 L534.46,600.29 L535.28,600.68 L536.08,601.00 L536.80,601.20 L537.91,601.24 L538.90,600.80 L539.46,600.39 L540.05,599.86 L540.61,599.15 L541.10,598.20 L541.33,597.55 L541.54,596.84 L541.72,596.06 L541.89,595.20 L542.05,594.26 L542.22,593.23 L542.40,592.10 L542.50,591.45 L542.60,590.75 L542.70,590.03 L542.80,589.28 L542.90,588.50 L543.00,587.69 L543.10,586.87 L543.20,586.03 L543.30,585.17 L543.40,584.31 L543.50,583.44 L543.60,582.57 L543.70,581.70 L543.79,580.94 L543.88,580.15 L543.97,579.35 L544.06,578.53 L544.15,577.70 L544.24,576.86 L544.33,576.02 L544.42,575.18 L544.51,574.34 L544.60,573.50 L544.68,572.67 L544.77,571.85 L544.85,571.05 L544.92,570.26 L545.00,569.50 L545.08,568.64 L545.16,567.78 L545.24,566.94 L545.31,566.11 L545.38,565.29 L545.44,564.48 L545.51,563.68 L545.57,562.89 L545.64,562.12 L545.70,561.35 L545.77,560.59 L545.83,559.84 L545.90,559.10 L545.99,558.15 L546.08,557.21 L546.17,556.28 L546.26,555.37 L546.36,554.48 L546.45,553.61 L546.54,552.77 L546.63,551.95 L546.71,551.16 L546.80,550.40 L546.92,549.37 L547.02,548.38 L547.12,547.44 L547.23,546.56 L547.34,545.74 L547.46,544.99 L547.60,544.30 L547.89,543.28 L548.21,542.47 L548.55,541.83 L548.90,541.30 L549.63,540.55 L550.40,540.40 L550.89,540.56 L551.39,541.03 L552.00,542.20 L552.22,542.77 L552.47,543.46 L552.73,544.26 L553.00,545.12 L553.28,546.03 L553.56,546.96 L553.84,547.89 L554.11,548.79 L554.36,549.64 L554.60,550.40 L554.91,551.40 L555.19,552.35 L555.46,553.26 L555.72,554.12 L555.98,554.95 L556.23,555.74 L556.50,556.50 L556.86,557.42 L557.19,558.17 L557.54,558.90 L557.93,559.73 L558.40,560.80 L558.67,561.47 L558.97,562.24 L559.29,563.09 L559.62,563.98 L559.96,564.89 L560.31,565.79 L560.67,566.66 L561.02,567.47 L561.36,568.19 L561.70,568.80 L562.36,569.82 L563.02,570.67 L563.67,571.30 L564.33,571.66 L565.00,571.70 L565.56,571.47 L566.13,571.03 L566.70,570.39 L567.27,569.57 L567.84,568.56 L568.40,567.40 L568.66,566.79 L568.91,566.11 L569.17,565.37 L569.42,564.59 L569.67,563.76 L569.92,562.90 L570.18,562.02 L570.43,561.13 L570.68,560.23 L570.93,559.34 L571.19,558.47 L571.44,557.62 L571.70,556.80 L571.96,555.99 L572.22,555.17 L572.48,554.34 L572.74,553.51 L573.00,552.68 L573.27,551.85 L573.53,551.04 L573.80,550.24 L574.06,549.47 L574.32,548.72 L574.58,548.01 L574.84,547.33 L575.10,546.70 L575.52,545.75 L575.93,544.86 L576.34,544.05 L576.76,543.30 L577.17,542.62 L577.58,542.01 L577.99,541.47 L578.40,541.00 L579.22,540.30 L580.04,539.89 L580.87,539.71 L581.70,539.70 L582.55,539.86 L583.40,540.22 L584.25,540.74 L585.10,541.40 L585.65,541.93 L586.18,542.54 L586.71,543.21 L587.25,543.93 L587.81,544.67 L588.40,545.40 L588.93,546.06 L589.49,546.78 L590.07,547.52 L590.65,548.25 L591.24,548.95 L591.82,549.57 L592.40,550.10 L593.23,550.72 L594.08,551.25 L594.92,551.66 L595.70,551.89 L596.40,551.90 L597.11,551.74 L597.70,551.36 L598.24,550.53 L598.80,549.00 L598.95,548.48 L599.10,547.89 L599.25,547.24 L599.40,546.54 L599.55,545.79 L599.70,545.00 L599.85,544.18 L600.00,543.33 L600.15,542.45 L600.30,541.56 L600.45,540.66 L600.60,539.75 L600.75,538.85 L600.90,537.95 L601.05,537.06 L601.20,536.20 L601.33,535.42 L601.47,534.59 L601.61,533.73 L601.75,532.84 L601.89,531.94 L602.03,531.01 L602.17,530.09 L602.31,529.16 L602.45,528.25 L602.59,527.35 L602.72,526.48 L602.86,525.64 L602.99,524.84 L603.12,524.09 L603.25,523.39 L603.37,522.75 L603.49,522.19 L603.60,521.70 L604.40,519.77 L605.20,520.10 L605.63,520.60 L606.10,521.51 L606.60,522.53 L607.11,523.36 L607.60,523.70 L608.07,523.46 L608.52,522.82 L608.98,521.95 L609.47,520.99 L610.00,520.10 L610.49,519.34 L611.01,518.46 L611.55,517.56 L612.10,516.73 L612.66,516.04 L613.20,515.60 L614.00,515.50 L614.80,515.85 L615.60,516.33 L616.40,516.60 L617.22,516.61 L618.05,516.51 L618.86,516.34 L619.60,516.10 L620.46,516.09 L621.22,515.96 L622.00,514.50 L622.14,514.01 L622.29,513.45 L622.44,512.83 L622.58,512.14 L622.73,511.40 L622.88,510.62 L623.03,509.79 L623.18,508.94 L623.32,508.06 L623.47,507.16 L623.62,506.24 L623.77,505.32 L623.92,504.41 L624.06,503.50 L624.21,502.61 L624.36,501.74 L624.50,500.90 L624.64,500.11 L624.77,499.31 L624.91,498.49 L625.04,497.66 L625.17,496.82 L625.31,495.98 L625.44,495.14 L625.57,494.29 L625.71,493.45 L625.84,492.61 L625.97,491.79 L626.10,490.97 L626.24,490.17 L626.37,489.39 L626.50,488.63 L626.63,487.89 L626.77,487.18 L626.90,486.50 L627.10,485.52 L627.30,484.57 L627.51,483.65 L627.71,482.77 L627.92,481.92 L628.12,481.10 L628.33,480.32 L628.53,479.57 L628.73,478.85 L628.92,478.17 L629.11,477.52 L629.30,476.90 L629.67,475.77 L630.03,474.79 L630.38,473.93 L630.71,473.20 L631.02,472.60 L631.30,472.10 L632.02,471.55 L632.50,471.60" fill="none" stroke="#135c80" stroke-width="2.25" stroke-linejoin="round"/>
<path d="M77.20,620.89 L77.65,620.89 L78.21,621.03 L78.86,621.20 L79.58,621.43 L80.37,621.72 L81.22,621.66 L82.10,621.79 L83.02,621.70 L83.95,621.89 L84.88,622.04 L85.80,622.33 L86.70,622.65 L87.47,622.90 L88.27,623.31 L89.10,623.54 L89.94,623.49 L90.80,623.44 L91.67,623.47 L92.54,623.80 L93.42,624.13 L94.29,624.37 L95.15,624.40 L95.99,624.47 L96.82,624.64 L97.62,624.91 L98.40,624.92 L99.26,625.05 L100.07,625.34 L100.85,625.55 L101.60,625.76 L102.34,626.11 L103.08,626.19 L103.82,626.21 L104.57,626.10 L105.36,626.45 L106.19,626.60 L107.06,626.95 L108.00,626.83 L108.70,626.92 L109.44,626.88 L110.20,627.06 L110.98,627.25 L111.79,627.46 L112.61,627.79 L113.45,628.02 L114.29,628.09 L115.14,628.31 L116.00,628.50 L116.85,628.65 L117.69,628.79 L118.53,628.78 L119.35,628.97 L120.15,629.04 L120.94,629.27 L121.70,629.31 L122.60,629.42 L123.48,629.49 L124.34,629.62 L125.19,629.58 L126.03,629.92 L126.85,630.04 L127.67,630.41 L128.49,630.42 L129.30,630.56 L130.12,630.62 L130.93,630.72 L131.75,630.88 L132.57,630.76 L133.40,630.86 L134.25,631.08 L135.13,631.43 L136.03,631.67 L136.94,631.87 L137.86,632.00 L138.77,632.25 L139.67,632.03 L140.56,632.09 L141.42,631.70 L142.25,632.10 L143.04,632.26 L143.79,632.88 L144.47,632.85 L145.10,632.72 L146.23,632.90 L146.99,632.99 L147.55,633.26 L148.11,633.28 L148.87,633.69 L150.00,633.99 L150.63,634.13 L151.31,633.94 L152.06,634.31 L152.85,634.39 L153.68,634.73 L154.54,634.71 L155.42,634.85 L156.33,634.97 L157.24,634.91 L158.16,634.99 L159.07,635.12 L159.97,635.46 L160.85,635.56 L161.70,635.62 L162.54,635.63 L163.37,635.80 L164.21,635.90 L165.05,635.92 L165.88,635.88 L166.72,636.07 L167.56,636.21 L168.39,636.36 L169.23,636.71 L170.06,636.86 L170.90,637.04 L171.73,636.74 L172.57,636.61 L173.40,636.73 L174.23,636.80 L175.06,637.02 L175.89,637.11 L176.72,637.35 L177.55,637.48 L178.37,637.47 L179.20,637.70 L180.03,637.85 L180.85,637.83 L181.68,637.77 L182.51,637.82 L183.34,638.04 L184.17,638.12 L185.00,638.21 L185.84,638.52 L186.69,638.54 L187.54,638.61 L188.41,638.58 L189.27,638.56 L190.13,638.71 L190.99,638.63 L191.85,638.89 L192.69,638.72 L193.53,638.83 L194.35,638.55 L195.15,638.64 L195.94,638.63 L196.70,638.91 L197.64,639.22 L198.54,639.46 L199.41,639.26 L200.25,638.94 L201.08,638.87 L201.90,639.07 L202.71,639.00 L203.52,638.91 L204.34,638.75 L205.16,638.82 L206.00,638.66 L206.85,638.78 L207.70,639.14 L208.56,639.33 L209.41,639.38 L210.27,639.45 L211.12,639.41 L211.98,639.45 L212.83,639.24 L213.69,639.38 L214.55,639.42 L215.40,639.64 L216.27,639.64 L217.17,639.79 L218.08,639.77 L218.99,639.81 L219.91,639.78 L220.81,639.85 L221.69,639.84 L222.54,640.00 L223.35,640.10 L224.10,640.35 L224.80,640.41 L225.83,640.53 L226.60,640.58 L227.26,640.70 L227.94,640.64 L228.81,640.80 L230.00,640.81 L230.64,640.98 L231.33,640.95 L232.08,641.02 L232.87,641.01 L233.70,641.16 L234.56,641.18 L235.44,641.22 L236.34,641.23 L237.25,641.35 L238.17,641.46 L239.08,641.48 L239.97,641.51 L240.85,641.61 L241.70,641.67 L242.54,641.79 L243.37,641.85 L244.21,641.96 L245.05,641.98 L245.88,642.09 L246.72,642.17 L247.56,642.29 L248.39,642.31 L249.23,642.37 L250.06,642.45 L250.90,642.54 L251.73,642.63 L252.57,642.71 L253.40,642.81 L254.23,642.90 L255.06,642.97 L255.89,643.05 L256.72,643.12 L257.55,643.20 L258.37,643.27 L259.20,643.34 L260.03,643.42 L260.85,643.50 L261.68,643.58 L262.51,643.66 L263.34,643.74 L264.17,643.82 L265.00,643.90 L265.83,643.98 L266.67,644.07 L267.50,644.16 L268.34,644.24 L269.17,644.33 L270.01,644.42 L270.84,644.51 L271.68,644.60 L272.52,644.69 L273.35,644.78 L274.19,644.86 L275.03,644.94 L275.86,645.02 L276.70,645.10 L277.54,645.18 L278.40,645.25 L279.27,645.33 L280.14,645.41 L281.02,645.48 L281.90,645.55 L282.77,645.62 L283.63,645.69 L284.48,645.76 L285.31,645.82 L286.12,645.87 L286.91,645.92 L287.67,645.96 L288.40,646.00 L289.37,646.04 L290.28,646.07 L291.16,646.09 L291.99,646.11 L292.79,646.11 L293.57,646.11 L294.34,646.09 L295.09,646.07 L295.84,646.04 L296.60,646.00 L297.54,645.93 L298.45,645.85 L299.34,645.75 L300.21,645.63 L301.07,645.51 L301.92,645.37 L302.76,645.24 L303.60,645.10 L304.39,644.97 L305.12,644.84 L305.81,644.71 L306.51,644.57 L307.24,644.41 L308.04,644.24 L308.95,644.04 L310.00,643.80 L310.63,643.65 L311.29,643.49 L312.00,643.31 L312.74,643.12 L313.51,642.93 L314.30,642.72 L315.11,642.51 L315.93,642.30 L316.77,642.09 L317.60,641.89 L318.44,641.69 L319.28,641.49 L320.10,641.31 L320.91,641.15 L321.70,641.00 L322.54,640.86 L323.40,640.72 L324.27,640.59 L325.15,640.48 L326.03,640.37 L326.90,640.27 L327.78,640.17 L328.64,640.08 L329.49,639.99 L330.32,639.91 L331.13,639.83 L331.92,639.75 L332.68,639.68 L333.40,639.60 L334.35,639.49 L335.23,639.39 L336.05,639.28 L336.84,639.19 L337.59,639.10 L338.34,639.02 L339.09,638.96 L339.85,638.92 L340.65,638.90 L341.50,638.90 L342.30,638.92 L343.10,638.97 L343.91,639.03 L344.73,639.11 L345.56,639.20 L346.40,639.30 L347.26,639.41 L348.14,639.53 L349.03,639.65 L349.95,639.78 L350.90,639.90 L351.66,640.00 L352.45,640.11 L353.26,640.23 L354.08,640.35 L354.91,640.48 L355.75,640.61 L356.61,640.74 L357.47,640.87 L358.33,641.00 L359.19,641.13 L360.05,641.26 L360.91,641.38 L361.76,641.49 L362.60,641.60 L363.44,641.70 L364.30,641.80 L365.17,641.90 L366.05,642.00 L366.93,642.09 L367.80,642.18 L368.68,642.27 L369.54,642.35 L370.39,642.44 L371.22,642.52 L372.03,642.59 L372.82,642.66 L373.58,642.73 L374.30,642.80 L375.26,642.89 L376.16,642.99 L377.01,643.09 L377.82,643.18 L378.61,643.26 L379.37,643.33 L380.12,643.39 L380.87,643.42 L381.63,643.42 L382.40,643.40 L383.28,643.35 L384.17,643.27 L385.07,643.17 L385.95,643.05 L386.83,642.90 L387.68,642.73 L388.50,642.52 L389.27,642.28 L390.00,642.00 L390.85,641.57 L391.62,641.07 L392.32,640.51 L392.99,639.91 L393.65,639.29 L394.31,638.68 L395.00,638.10 L395.62,637.60 L396.25,637.10 L396.88,636.59 L397.50,636.08 L398.12,635.57 L398.75,635.07 L399.38,634.58 L400.00,634.10 L400.71,633.57 L401.43,633.05 L402.14,632.54 L402.86,632.04 L403.57,631.55 L404.29,631.07 L405.00,630.60 L405.73,630.15 L406.48,629.72 L407.24,629.31 L407.99,628.89 L408.71,628.48 L409.39,628.05 L410.00,627.60 L410.76,626.94 L411.43,626.26 L412.03,625.56 L412.58,624.84 L413.10,624.10 L413.57,623.36 L413.98,622.63 L414.35,621.87 L414.72,621.04 L415.10,620.10 L415.39,619.37 L415.67,618.59 L415.96,617.77 L416.24,616.92 L416.53,616.02 L416.81,615.08 L417.10,614.10 L417.30,613.38 L417.50,612.63 L417.70,611.85 L417.90,611.04 L418.10,610.23 L418.30,609.40 L418.50,608.56 L418.70,607.73 L418.90,606.91 L419.10,606.10 L419.30,605.30 L419.50,604.49 L419.70,603.67 L419.90,602.86 L420.10,602.04 L420.30,601.24 L420.50,600.43 L420.70,599.64 L420.90,598.86 L421.10,598.10 L421.32,597.26 L421.54,596.42 L421.77,595.59 L421.99,594.77 L422.21,593.96 L422.43,593.18 L422.66,592.42 L422.88,591.69 L423.10,591.00 L423.42,590.04 L423.73,589.16 L424.04,588.34 L424.36,587.55 L424.71,586.78 L425.10,586.00 L425.53,585.20 L425.99,584.41 L426.47,583.62 L426.99,582.87 L427.53,582.16 L428.10,581.50 L428.71,580.90 L429.36,580.33 L430.04,579.81 L430.73,579.33 L431.42,578.90 L432.10,578.50 L432.91,578.09 L433.72,577.74 L434.54,577.46 L435.33,577.21 L436.10,577.00 L436.98,576.76 L437.80,576.57 L438.65,576.47 L439.60,576.50 L440.33,576.60 L441.12,576.77 L441.94,576.98 L442.78,577.24 L443.61,577.55 L444.40,577.90 L445.16,578.30 L445.90,578.76 L446.63,579.27 L447.36,579.80 L448.08,580.35 L448.80,580.90 L449.52,581.45 L450.24,582.03 L450.95,582.61 L451.66,583.21 L452.38,583.81 L453.10,584.40 L453.72,584.92 L454.35,585.45 L454.98,585.99 L455.61,586.52 L456.24,587.04 L456.87,587.54 L457.50,588.00 L458.23,588.50 L458.97,588.97 L459.70,589.42 L460.43,589.84 L461.17,590.23 L461.90,590.60 L462.78,591.00 L463.66,591.36 L464.55,591.69 L465.43,592.00 L466.30,592.30 L467.16,592.57 L468.02,592.81 L468.88,593.03 L469.74,593.29 L470.60,593.60 L471.33,593.89 L472.06,594.20 L472.79,594.53 L473.53,594.90 L474.27,595.32 L475.00,595.80 L475.63,596.28 L476.26,596.83 L476.89,597.41 L477.51,598.03 L478.14,598.64 L478.77,599.24 L479.40,599.80 L480.03,600.34 L480.66,600.87 L481.29,601.40 L481.91,601.92 L482.54,602.41 L483.17,602.87 L483.80,603.30 L484.55,603.76 L485.33,604.20 L486.11,604.59 L486.87,604.95 L487.57,605.25 L488.20,605.50 L489.17,605.83 L489.93,605.96 L490.80,605.90 L491.61,605.72 L492.49,605.41 L493.40,605.03 L494.30,604.60 L494.97,604.20 L495.62,603.75 L496.28,603.27 L496.99,602.80 L497.80,602.40 L498.59,602.11 L499.48,601.85 L500.42,601.61 L501.35,601.39 L502.23,601.19 L503.00,601.00 L503.95,600.78 L504.74,600.62 L505.47,600.45 L506.20,600.20 L506.93,599.79 L507.62,599.28 L508.33,598.80 L509.10,598.50 L509.96,598.49 L510.88,598.66 L511.81,598.86 L512.70,598.90 L513.53,598.74 L514.32,598.46 L515.11,598.12 L515.90,597.80 L516.68,597.48 L517.45,597.13 L518.24,596.79 L519.10,596.50 L519.85,596.28 L520.64,596.07 L521.46,595.88 L522.29,595.75 L523.10,595.70 L523.90,595.75 L524.70,595.90 L525.50,596.09 L526.30,596.30 L527.10,596.50 L527.93,596.69 L528.78,596.88 L529.62,597.08 L530.40,597.29 L531.10,597.50 L532.03,597.87 L532.79,598.24 L533.50,598.60 L534.52,599.11 L535.50,599.50 L536.56,599.81 L537.60,599.70 L538.24,599.23 L538.85,598.47 L539.40,597.30 L539.62,596.64 L539.82,595.88 L540.02,595.03 L540.20,594.13 L540.38,593.17 L540.54,592.19 L540.70,591.20 L540.81,590.41 L540.91,589.60 L541.00,588.76 L541.08,587.90 L541.17,587.02 L541.24,586.13 L541.33,585.23 L541.41,584.32 L541.50,583.40 L541.59,582.57 L541.67,581.74 L541.76,580.91 L541.85,580.07 L541.94,579.21 L542.04,578.35 L542.13,577.46 L542.22,576.56 L542.31,575.64 L542.40,574.70 L542.47,573.96 L542.54,573.20 L542.61,572.43 L542.68,571.65 L542.75,570.86 L542.82,570.07 L542.88,569.26 L542.95,568.44 L543.02,567.62 L543.09,566.80 L543.16,565.97 L543.23,565.13 L543.30,564.30 L543.36,563.51 L543.43,562.71 L543.49,561.89 L543.56,561.06 L543.63,560.22 L543.69,559.38 L543.76,558.54 L543.82,557.71 L543.89,556.88 L543.95,556.07 L544.01,555.27 L544.08,554.49 L544.14,553.73 L544.20,553.00 L544.28,552.08 L544.35,551.29 L544.42,550.58 L544.48,549.92 L544.55,549.25 L544.62,548.53 L544.70,547.72 L544.78,546.78 L544.88,545.65 L545.00,544.30 L545.05,543.71 L545.10,543.08 L545.16,542.41 L545.21,541.71 L545.27,540.97 L545.33,540.21 L545.39,539.42 L545.46,538.61 L545.52,537.78 L545.59,536.93 L545.66,536.06 L545.72,535.19 L545.79,534.31 L545.86,533.42 L545.93,532.53 L546.01,531.64 L546.08,530.75 L546.15,529.87 L546.22,529.00 L546.29,528.14 L546.36,527.29 L546.43,526.47 L546.50,525.66 L546.57,524.88 L546.63,524.13 L546.70,523.40 L546.79,522.48 L546.87,521.56 L546.96,520.65 L547.04,519.74 L547.13,518.84 L547.21,517.95 L547.30,517.07 L547.38,516.20 L547.47,515.35 L547.56,514.51 L547.64,513.69 L547.73,512.90 L547.81,512.12 L547.90,511.36 L547.98,510.63 L548.07,509.93 L548.15,509.25 L548.23,508.60 L548.32,507.98 L548.40,507.40 L548.61,506.08 L548.81,504.94 L549.02,503.96 L549.23,503.12 L549.43,502.39 L549.62,501.76 L549.82,501.21 L550.00,500.70 L550.64,499.49 L551.30,499.60 L551.61,499.96 L551.94,500.50 L552.28,501.25 L552.63,502.21 L553.00,503.40 L553.17,504.01 L553.33,504.65 L553.49,505.32 L553.65,506.04 L553.81,506.80 L553.98,507.62 L554.16,508.49 L554.35,509.43 L554.55,510.44 L554.76,511.53 L555.00,512.70 L555.13,513.33 L555.26,513.99 L555.39,514.69 L555.53,515.43 L555.68,516.19 L555.83,516.97 L555.98,517.78 L556.14,518.60 L556.30,519.44 L556.46,520.29 L556.62,521.15 L556.78,522.01 L556.95,522.87 L557.11,523.73 L557.28,524.59 L557.44,525.43 L557.61,526.26 L557.77,527.08 L557.93,527.87 L558.09,528.64 L558.25,529.39 L558.40,530.10 L558.60,531.00 L558.80,531.90 L559.00,532.79 L559.20,533.68 L559.40,534.56 L559.60,535.42 L559.80,536.27 L559.99,537.10 L560.19,537.91 L560.39,538.70 L560.58,539.46 L560.78,540.20 L560.97,540.91 L561.15,541.58 L561.34,542.23 L561.52,542.83 L561.70,543.40 L562.12,544.61 L562.52,545.61 L562.90,546.44 L563.28,547.12 L563.65,547.70 L564.02,548.22 L564.40,548.70 L565.27,549.66 L566.13,550.18 L567.00,550.10 L567.44,549.79 L567.89,549.31 L568.34,548.69 L568.80,547.93 L569.25,547.06 L569.70,546.10 L569.97,545.46 L570.24,544.74 L570.51,543.95 L570.78,543.13 L571.05,542.27 L571.32,541.40 L571.59,540.53 L571.86,539.68 L572.13,538.87 L572.40,538.10 L572.70,537.28 L573.00,536.46 L573.30,535.64 L573.61,534.85 L573.91,534.07 L574.21,533.33 L574.51,532.64 L574.80,531.99 L575.10,531.40 L575.62,530.49 L576.13,529.72 L576.64,529.09 L577.16,528.56 L577.70,528.10 L578.67,527.50 L579.69,527.16 L580.70,527.10 L581.44,527.23 L582.18,527.50 L582.92,527.97 L583.70,528.70 L584.17,529.29 L584.66,530.02 L585.16,530.85 L585.66,531.73 L586.15,532.59 L586.64,533.40 L587.10,534.10 L587.71,534.89 L588.28,535.56 L588.84,536.17 L589.41,536.79 L590.00,537.50 L590.52,538.18 L591.04,538.91 L591.58,539.66 L592.12,540.41 L592.66,541.14 L593.20,541.80 L593.85,542.60 L594.52,543.43 L595.18,544.18 L595.81,544.74 L596.40,545.00 L597.06,545.04 L597.65,544.81 L598.22,544.07 L598.80,542.60 L598.95,542.08 L599.10,541.50 L599.25,540.85 L599.40,540.15 L599.55,539.39 L599.70,538.60 L599.85,537.76 L600.00,536.90 L600.15,536.01 L600.30,535.11 L600.45,534.19 L600.60,533.28 L600.75,532.36 L600.90,531.46 L601.05,530.57 L601.20,529.70 L601.33,528.92 L601.47,528.10 L601.60,527.25 L601.74,526.37 L601.88,525.47 L602.01,524.57 L602.15,523.65 L602.28,522.74 L602.42,521.84 L602.55,520.96 L602.69,520.10 L602.82,519.27 L602.96,518.47 L603.09,517.72 L603.22,517.02 L603.35,516.38 L603.47,515.80 L603.60,515.30 L604.33,513.44 L605.03,512.92 L605.70,512.90 L606.33,513.57 L606.94,514.74 L607.60,515.00 L607.87,514.63 L608.15,514.05 L608.43,513.31 L608.72,512.46 L609.02,511.55 L609.33,510.62 L609.66,509.72 L610.00,508.90 L610.36,508.09 L610.74,507.22 L611.14,506.32 L611.55,505.44 L611.96,504.60 L612.38,503.86 L612.79,503.25 L613.20,502.80 L614.00,502.51 L614.80,502.77 L615.60,503.17 L616.40,503.30 L617.22,503.07 L618.05,502.68 L618.86,502.21 L619.60,501.70 L620.25,501.44 L620.84,501.30 L621.41,500.76 L622.00,499.30 L622.14,498.80 L622.27,498.24 L622.41,497.61 L622.55,496.94 L622.69,496.22 L622.83,495.45 L622.97,494.65 L623.11,493.82 L623.25,492.96 L623.39,492.08 L623.53,491.18 L623.67,490.27 L623.81,489.36 L623.95,488.44 L624.09,487.54 L624.23,486.64 L624.36,485.76 L624.50,484.90 L624.62,484.13 L624.74,483.35 L624.87,482.56 L624.99,481.76 L625.11,480.95 L625.23,480.14 L625.35,479.32 L625.47,478.50 L625.59,477.68 L625.71,476.85 L625.83,476.02 L625.94,475.20 L626.06,474.38 L626.18,473.56 L626.30,472.75 L626.42,471.94 L626.54,471.14 L626.66,470.35 L626.78,469.57 L626.90,468.80 L627.03,467.95 L627.17,467.08 L627.30,466.21 L627.44,465.34 L627.58,464.46 L627.71,463.59 L627.85,462.72 L627.99,461.86 L628.12,461.01 L628.26,460.18 L628.40,459.36 L628.53,458.57 L628.66,457.79 L628.79,457.05 L628.92,456.33 L629.05,455.65 L629.18,455.01 L629.30,454.40 L629.57,453.16 L629.85,452.05 L630.11,451.07 L630.38,450.21 L630.63,449.46 L630.87,448.79 L631.09,448.21 L631.30,447.70 L632.02,446.78 L632.50,446.70" fill="none" stroke="#e96e2e" stroke-width="2.25" stroke-linejoin="round"/>
<text x="87.6" y="620.8" font-size="13.6" text-anchor="middle" font-weight="normal" >12000</text>
<line x1="77.3" y1="399.6" x2="77.3" y2="668.5" stroke="#c0c0c0" stroke-width="1.1"/>
<path d="M351.6,507.6 L435.1,507.6 L435.1,538.8 L420.9,538.8 L439.5,575.9 L400.4,538.8 L351.6,538.8 Z" fill="#fff" stroke="#000" stroke-width="1.5" stroke-linejoin="miter"/><text x="393.0" y="529.3000000000001" font-size="17" text-anchor="middle" font-weight="normal" >6711</text>
<path d="M444.8,472.6 L528.3,472.6 L528.3,491.2 L551.1,498.2 L528.3,498.8 L528.3,503.9 L444.8,503.9 Z" fill="#fff" stroke="#000" stroke-width="1.5" stroke-linejoin="miter"/><text x="486.8" y="494.20000000000005" font-size="17" text-anchor="middle" font-weight="normal" >5076</text>
<path d="M534.2,424.8 L617.3,424.8 L617.3,455.7 L603.6,455.7 L580.4,525.8 L582.9,455.7 L534.2,455.7 Z" fill="#fff" stroke="#000" stroke-width="1.5" stroke-linejoin="miter"/><text x="576.8" y="446.70000000000005" font-size="17" text-anchor="middle" font-weight="normal" letter-spacing="0.7">4636</text>
<line x1="173.1" y1="700.6" x2="201.3" y2="700.6" stroke="#135c80" stroke-width="2.25" stroke-linecap="round"/>
<text x="205.6" y="704.9" font-size="13.6" text-anchor="start" font-weight="normal" >Fast Growing Trees</text>
<line x1="365.1" y1="700.3" x2="393.9" y2="700.3" stroke="#e96e2e" stroke-width="2.25" stroke-linecap="round"/>
<text x="397.4" y="704.9" font-size="13.6" text-anchor="start" font-weight="normal" >Agriculture Residues</text>
<text x="335.9" y="743.9" font-size="15.5" text-anchor="middle" font-weight="normal" >(b)</text>
</svg>
</body></html>
